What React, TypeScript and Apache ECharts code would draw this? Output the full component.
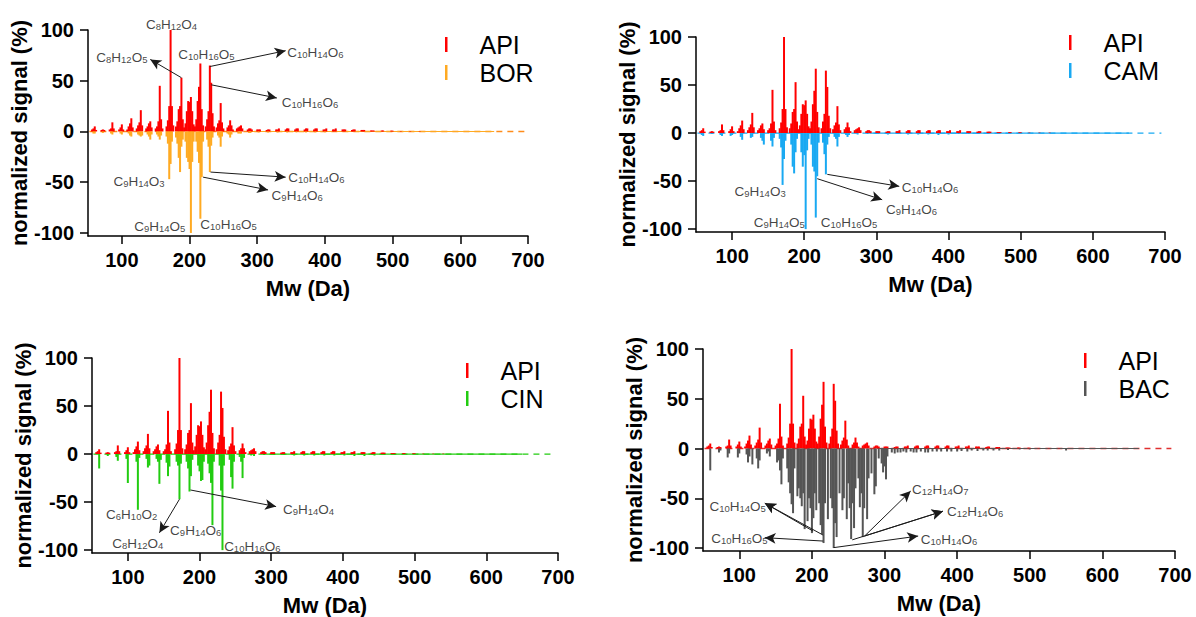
import React, { useEffect, useRef } from "react";
import * as echarts from "echarts";

// ---------- data (m/z in Da, normalized signal in %) ----------
const API_MZ = [56, 58, 60, 62, 70, 72, 74, 82, 84, 86, 88, 96, 98, 100, 102, 108, 110, 112, 114, 116, 122, 124, 126, 128, 130, 136, 138, 140, 142, 144, 150, 152, 154, 156, 158, 160, 166, 168, 170, 172, 174, 176, 180, 182, 184, 186, 188, 190, 192, 194, 196, 198, 200, 202, 204, 206, 208, 210, 212, 214, 216, 218, 220, 224, 226, 228, 230, 232, 234, 236, 240, 242, 244, 246, 248, 250, 256, 258, 260, 262, 264, 270, 272, 274, 276, 278, 286, 288, 290, 292, 300, 302, 304, 314, 316, 318, 328, 330, 332, 342, 344, 346, 356, 358, 360, 370, 372, 374, 384, 386, 388, 398, 400, 402, 412, 414, 416, 426, 428, 430, 440, 442, 444, 454, 456, 458, 468, 470, 472, 484, 486, 498, 500, 512, 526, 540];
const API_INT = [2, 3, 5, 1.5, 1.5, 2, 1.5, 2, 3, 9, 3, 2, 4, 7, 2, 2, 5, 8, 13, 4, 3, 6, 9, 21, 6, 3, 5, 8, 10, 4, 3, 5, 10, 45, 12, 3, 5, 11, 25, 100, 25, 6, 5, 10, 22, 25, 53, 12, 4, 8, 20, 30, 29, 34, 20, 7, 5, 12, 30, 44, 67, 22, 6, 5, 12, 20, 65, 48, 18, 5, 4, 8, 11, 28, 9, 3, 4, 6, 11, 6, 2, 3, 4, 5, 6, 3, 2, 3, 3, 2, 2, 2, 2, 1.5, 2, 2, 2, 2, 3, 2, 3, 3, 2, 3, 3, 2, 3, 3, 2, 3, 3, 2, 2, 3, 2, 2, 3, 2, 2, 2, 1.5, 2, 2, 1.5, 1.5, 1.5, 1, 1, 1, 1, 1, 0.8, 0.8, 0.5, 0.5, 0.5];

const BOR_MZ = [58, 60, 72, 84, 86, 98, 100, 110, 112, 114, 124, 126, 128, 130, 138, 140, 142, 144, 152, 154, 156, 158, 166, 168, 170, 172, 174, 180, 182, 184, 186, 188, 190, 194, 196, 198, 200, 202, 204, 206, 210, 212, 214, 216, 218, 220, 226, 228, 230, 232, 234, 242, 244, 246, 248, 256, 258, 260, 262, 272, 274, 276, 288, 290, 302, 316, 330, 344, 358, 372, 386, 400];
const BOR_INT = [-2, -2, -1.5, -2, -3, -2, -3, -2, -4, -5, -3, -4, -5, -4, -3, -5, -8, -3, -3, -5, -8, -4, -5, -12, -47, -32, -10, -6, -12, -26, -40, -15, -8, -10, -26, -30, -37, -100, -30, -10, -10, -20, -31, -86, -45, -10, -8, -15, -40, -14, -6, -4, -6, -15, -5, -2, -3, -6, -3, -2, -2, -2, -1.5, -1.5, -1, -1, -1, -1, -1, -1, -1, -0.8];

const CAM_MZ = [58, 60, 72, 84, 86, 98, 100, 112, 114, 126, 128, 140, 142, 144, 154, 156, 158, 166, 168, 170, 172, 174, 182, 184, 186, 188, 190, 196, 198, 200, 202, 204, 206, 210, 212, 214, 216, 218, 220, 226, 228, 230, 232, 234, 242, 244, 246, 248, 258, 260, 262, 274, 288, 300, 316, 330, 344, 358, 372, 386, 400, 414, 428, 442];
const CAM_INT = [-2, -3, -1, -2, -3, -3, -2, -4, -7, -5, -4, -5, -8, -12, -8, -14, -5, -6, -15, -54, -27, -8, -12, -35, -42, -20, -6, -20, -35, -23, -100, -18, -6, -12, -35, -40, -88, -45, -10, -10, -22, -43, -12, -4, -4, -6, -14, -4, -2, -4, -2, -1.5, -1, -1, -1.5, -1, -1.5, -1.5, -1.5, -2, -1.5, -1, -1, -1];

const CIN_MZ = [60, 72, 84, 86, 98, 100, 112, 114, 116, 126, 128, 130, 140, 142, 144, 146, 154, 156, 158, 168, 170, 172, 174, 182, 184, 186, 188, 190, 198, 200, 202, 204, 206, 212, 214, 216, 218, 220, 228, 230, 232, 234, 242, 244, 246, 248, 256, 258, 260, 262, 272, 276, 290, 304, 318, 332, 346, 360, 374, 388, 402, 416, 430, 444, 458, 472];
const CIN_INT = [-15, -2, -3, -7, -5, -30, -8, -58, -4, -5, -14, -12, -5, -8, -31, -6, -9, -23, -13, -8, -12, -47, -10, -8, -15, -39, -23, -6, -12, -18, -28, -27, -8, -10, -20, -30, -74, -8, -12, -38, -100, -12, -6, -24, -36, -8, -3, -8, -25, -4, -1.5, -2, -1, -1, -1, -1.5, -1.5, -1.5, -1.5, -1.5, -1.5, -2, -2, -1.5, -1, -1];

const BAC_MZ = [60, 72, 74, 84, 86, 98, 100, 110, 112, 114, 118, 124, 126, 128, 138, 140, 142, 152, 154, 156, 158, 160, 166, 168, 170, 172, 174, 176, 180, 182, 184, 186, 188, 190, 194, 196, 198, 200, 202, 204, 206, 210, 212, 214, 216, 218, 222, 226, 228, 230, 232, 234, 238, 242, 244, 248, 250, 252, 254, 256, 258, 260, 264, 266, 268, 270, 272, 276, 278, 282, 286, 288, 292, 296, 298, 300, 302, 304, 310, 314, 318, 322, 326, 330, 336, 340, 344, 350, 356, 360, 366, 372, 378, 386, 392, 400, 406, 414, 420, 428, 436, 442, 450, 458, 470, 486, 500, 550];
const BAC_INT = [-22, -4, -2, -9, -5, -9, -5, -6, -14, -8, -16, -10, -20, -12, -5, -3, -8, -14, -12, -22, -36, -10, -20, -34, -45, -56, -65, -20, -48, -40, -50, -58, -45, -81, -73, -50, -60, -85, -70, -45, -62, -55, -77, -86, -95, -55, -71, -50, -60, -100, -75, -89, -45, -62, -50, -71, -35, -60, -91, -55, -80, -40, -30, -59, -45, -89, -60, -71, -30, -25, -46, -38, -10, -15, -24, -18, -31, -8, -4, -5, -4, -4, -3, -4, -3, -4, -4, -3, -4, -4, -3, -3, -3, -3, -3, -3, -2.5, -3, -2, -2.5, -2, -2, -2, -2, -1.5, -1, -1, -2];

const X_TICKS = [100, 200, 300, 400, 500, 600, 700];
const Y_TICKS = [-100, -50, 0, 50, 100];
const X_MIN = 50;
const X_MAX = 700;
const Y_MIN = -103;
const Y_MAX = 100;
const BASE_START = 52;
const API_BASE_END = 695;
const PARTNER_BASE_START = 290;
const PARTNER_BASE_END = 650;

// annotations: formula, anchor (m/z, %), alignment of the text
type Note = { f: string; x: number; y: number; a: "left" | "right" | "center" };
type Arrow = { x1: number; y1: number; x2: number; y2: number };

const BOR_NOTES: Note[] = [
  { f: "C8H12O4", x: 174, y: 108, a: "center" },
  { f: "C8H12O5", x: 63, y: 75.5, a: "left" },
  { f: "C10H16O5", x: 184, y: 78, a: "left" },
  { f: "C10H14O6", x: 345, y: 80, a: "left" },
  { f: "C10H16O6", x: 337, y: 31, a: "left" },
  { f: "C10H14O6", x: 346.5, y: -43, a: "left" },
  { f: "C9H14O6", x: 322, y: -61, a: "left" },
  { f: "C9H14O3", x: 164, y: -47, a: "right" },
  { f: "C9H14O5", x: 194.5, y: -91.5, a: "right" },
  { f: "C10H16O5", x: 216.7, y: -89, a: "left" },
];
const BOR_ARROWS: Arrow[] = [
  { x1: 188, y1: 53, x2: 142, y2: 71 },
  { x1: 230, y1: 64, x2: 342, y2: 79.6 },
  { x1: 232, y1: 46, x2: 329, y2: 33 },
  { x1: 231, y1: -40, x2: 342, y2: -45 },
  { x1: 220, y1: -45, x2: 316, y2: -57.6 },
];
const CAM_NOTES: Note[] = [
  { f: "C9H14O3", x: 175, y: -58, a: "right" },
  { f: "C9H14O5", x: 201.5, y: -91, a: "right" },
  { f: "C10H16O5", x: 223.7, y: -91, a: "left" },
  { f: "C10H14O6", x: 336, y: -54, a: "left" },
  { f: "C9H14O6", x: 314, y: -77, a: "left" },
];
const CAM_ARROWS: Arrow[] = [
  { x1: 232, y1: -43, x2: 331.7, y2: -55.5 },
  { x1: 218, y1: -47.5, x2: 308, y2: -69.4 },
];
const CIN_NOTES: Note[] = [
  { f: "C6H10O2", x: 106, y: -60, a: "center" },
  { f: "C8H12O4", x: 114.6, y: -91, a: "center" },
  { f: "C9H14O6", x: 195.3, y: -77, a: "center" },
  { f: "C10H16O6", x: 235, y: -94, a: "left" },
  { f: "C9H14O4", x: 317, y: -55, a: "left" },
];
const CIN_ARROWS: Arrow[] = [
  { x1: 172, y1: -47, x2: 144, y2: -82 },
  { x1: 187.4, y1: -37.4, x2: 306.8, y2: -54.7 },
];
const BAC_NOTES: Note[] = [
  { f: "C10H14O5", x: 59.5, y: -56, a: "left" },
  { f: "C10H16O5", x: 62, y: -88, a: "left" },
  { f: "C10H14O6", x: 350.7, y: -88.6, a: "left" },
  { f: "C12H14O6", x: 386.7, y: -61, a: "left" },
  { f: "C12H14O7", x: 338.6, y: -39, a: "left" },
];
const BAC_ARROWS: Arrow[] = [
  { x1: 201.6, y1: -83, x2: 135.2, y2: -55 },
  { x1: 215.4, y1: -87, x2: 135.2, y2: -55 },
  { x1: 215.4, y1: -93, x2: 135, y2: -89.6 },
  { x1: 230, y1: -99.6, x2: 346.3, y2: -88 },
  { x1: 255.5, y1: -91.8, x2: 380.4, y2: -63 },
  { x1: 272.5, y1: -88, x2: 380.4, y2: -63 },
  { x1: 272.5, y1: -88, x2: 336, y2: -42.8 },
];

const PANELS = [
  { name: "BOR", mz: BOR_MZ, val: BOR_INT, color: "#FFAA22", notes: BOR_NOTES, arrows: BOR_ARROWS, endColor: "#FF8C1A" },
  { name: "CAM", mz: CAM_MZ, val: CAM_INT, color: "#19A9F2", notes: CAM_NOTES, arrows: CAM_ARROWS, endColor: "#19A9F2" },
  { name: "CIN", mz: CIN_MZ, val: CIN_INT, color: "#22CC11", notes: CIN_NOTES, arrows: CIN_ARROWS, endColor: "#22CC11" },
  { name: "BAC", mz: BAC_MZ, val: BAC_INT, color: "#555555", notes: BAC_NOTES, arrows: BAC_ARROWS, endColor: "#E03030" },
];

// layout
const GRIDS = [
  { left: 88, top: 30, width: 440, height: 206 },
  { left: 696, top: 37, width: 469, height: 195 },
  { left: 92, top: 358, width: 466, height: 195 },
  { left: 703, top: 349, width: 472, height: 202 },
];
const LEGENDS = [
  { left: 440, top: 27 },
  { left: 1064, top: 25 },
  { left: 461, top: 353 },
  { left: 1079, top: 343 },
];

const FONT = "'Liberation Sans', Arial, Helvetica, sans-serif";
const API_COLOR = "#FF0000";
const NOTE_COLOR = "#111111";
const ARROW_COLOR = "#1a1a1a";

function toRich(f: string): string {
  return f.replace(/([A-Za-z]+)|(\d+)/g, (_m, l, d) => (l ? `{n|${l}}` : `{s|${d}}`));
}

function buildOption() {
  const grid = GRIDS.map((g) => ({ ...g, containLabel: false, outerBoundsMode: "none" }));
  const xAxis = GRIDS.map((_g, i) => ({
    type: "value",
    gridIndex: i,
    min: X_MIN,
    max: X_MAX,
    name: "Mw (Da)",
    nameLocation: "middle",
    nameGap: 41,
    nameTextStyle: { fontFamily: FONT, fontSize: 22, fontWeight: "bold", color: "#000" },
    axisLine: { onZero: false, lineStyle: { color: "#000", width: 1.5 } },
    axisTick: { show: true, length: 8, customValues: X_TICKS, lineStyle: { color: "#000", width: 1.5 } },
    axisLabel: { customValues: X_TICKS, margin: 14, fontFamily: FONT, fontSize: 20, fontWeight: "bold", color: "#000" },
    splitLine: { show: false },
  }));
  const yAxis = GRIDS.map((_g, i) => ({
    type: "value",
    gridIndex: i,
    min: Y_MIN,
    max: Y_MAX,
    name: "normalized signal (%)",
    nameLocation: "middle",
    nameGap: 55,
    nameTextStyle: { fontFamily: FONT, fontSize: 22, fontWeight: "bold", color: "#000" },
    axisLine: { show: true, lineStyle: { color: "#000", width: 1.5 } },
    axisTick: { show: true, length: 8, customValues: Y_TICKS, lineStyle: { color: "#000", width: 1.5 } },
    axisLabel: { customValues: Y_TICKS, margin: 14, fontFamily: FONT, fontSize: 20, fontWeight: "bold", color: "#000" },
    splitLine: { show: false },
  }));

  const series: any[] = [];
  PANELS.forEach((p, i) => {
    series.push({
      type: "line",
      name: "api-base",
      xAxisIndex: i,
      yAxisIndex: i,
      data: [[BASE_START, 0], [API_BASE_END, 0]],
      symbol: "none",
      lineStyle: { color: p.endColor, width: 1.3, type: [6, 5] },
      z: 1,
      silent: true,
    });
    series.push({
      type: "line",
      name: "partner-base",
      xAxisIndex: i,
      yAxisIndex: i,
      data: [[PARTNER_BASE_START, 0], [PARTNER_BASE_END, 0]],
      symbol: "none",
      lineStyle: { color: p.color, width: 1.2 },
      z: 2,
      silent: true,
    });
    series.push({
      type: "bar",
      name: "API",
      xAxisIndex: i,
      yAxisIndex: i,
      data: API_MZ.map((m, k) => [m, API_INT[k]]),
      barWidth: 2,
      barGap: "-100%",
      itemStyle: { color: API_COLOR },
      z: 3,
      silent: true,
    });
    series.push({
      type: "bar",
      name: p.name,
      xAxisIndex: i,
      yAxisIndex: i,
      data: p.mz.map((m, k) => [m, p.val[k]]),
      barWidth: 2,
      barGap: "-100%",
      itemStyle: { color: p.color },
      z: 3,
      silent: true,
    });
    // arrows
    series.push({
      type: "line",
      name: "arrows-" + p.name,
      xAxisIndex: i,
      yAxisIndex: i,
      data: [],
      symbol: "none",
      silent: true,
      z: 4,
      itemStyle: { color: ARROW_COLOR },
      lineStyle: { color: ARROW_COLOR },
      markLine: {
        silent: true,
        symbol: ["none", "arrow"],
        symbolSize: [8, 11],
        label: { show: false },
        itemStyle: { color: ARROW_COLOR },
        lineStyle: { color: ARROW_COLOR, width: 1, type: "solid", opacity: 1 },
        emphasis: { disabled: true },
        data: p.arrows.map((a) => [{ coord: [a.x1, a.y1] }, { coord: [a.x2, a.y2] }]),
      },
    });
    // formula labels
    series.push({
      type: "scatter",
      name: "notes-" + p.name,
      xAxisIndex: i,
      yAxisIndex: i,
      clip: false,
      symbol: "circle",
      symbolSize: 1,
      itemStyle: { color: "rgba(0,0,0,0)" },
      silent: true,
      z: 5,
      data: p.notes.map((n) => ({ name: n.f, value: [n.x, n.y], label: { align: n.a } })),
      label: {
        show: true,
        position: [0, 0],
        verticalAlign: "middle",
        color: NOTE_COLOR,
        formatter: (prm: any) => toRich(prm.name),
        rich: {
          n: { fontFamily: FONT, fontSize: 13.5, lineHeight: 20, verticalAlign: "bottom", color: NOTE_COLOR },
          s: { fontFamily: FONT, fontSize: 9.5, lineHeight: 9, verticalAlign: "bottom", color: NOTE_COLOR },
        },
      },
    });
  });

  const legend = PANELS.map((p, i) => ({
    orient: "vertical",
    left: LEGENDS[i].left,
    top: LEGENDS[i].top,
    icon: "rect",
    itemWidth: 2.5,
    itemHeight: 15,
    itemGap: 3,
    selectedMode: false,
    data: ["API", p.name],
    formatter: (name: string) => `{t|${name}}`,
    textStyle: {
      rich: { t: { fontFamily: FONT, fontSize: 25, lineHeight: 27, color: "#000", padding: [0, 0, 0, 27] } },
    },
  }));

  return { animation: false, backgroundColor: "#fff", grid, xAxis, yAxis, legend, series };
}

export default function App() {
  const ref = useRef<HTMLDivElement>(null);
  useEffect(() => {
    if (!ref.current) return;
    const chart = echarts.init(ref.current, undefined, { renderer: "svg" });
    chart.setOption(buildOption() as any);
    return () => chart.dispose();
  }, []);
  return (
    <div
      ref={ref}
      style={{ position: "absolute", left: 0, top: 0, width: 1196, height: 617, background: "#fff" }}
    />
  );
}
